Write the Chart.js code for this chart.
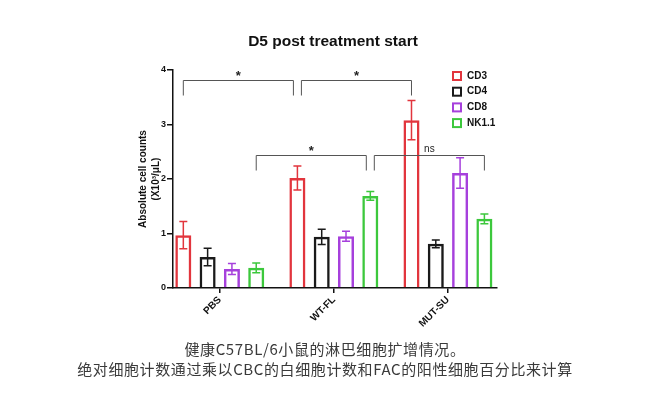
<!DOCTYPE html>
<html>
<head>
<meta charset="utf-8">
<script src="https://cdn.jsdelivr.net/npm/chart.js@4/dist/chart.umd.min.js"></script>
<style>
body { margin: 0; background: #fff; }
#wrap { position: relative; width: 650px; height: 394px; }
canvas { position: absolute; left: 0; top: 0; }
.title { position: absolute; left: 233px; width: 200px; top: 31px; text-align: center; font-family: Arial, "Liberation Sans", sans-serif; font-weight: bold; font-size: 15.5px; line-height: 20px; color: #111; }
.cap { position: absolute; left: 0; width: 650px; text-align: center; font-family: "Noto Sans CJK SC"; font-size: 15px; letter-spacing: 0.6px; color: #3a3a3a; line-height: 20px; }
</style>
</head>
<body>
<div id="wrap">
  <canvas id="chart" width="650" height="394"></canvas>
  <div class="title">D5 post treatment start</div>
  <div class="cap" style="top:339px">健康C57BL/6小鼠的淋巴细胞扩增情况。</div>
  <div class="cap" style="top:359px">绝对细胞计数通过乘以CBC的白细胞计数和FAC的阳性细胞百分比来计算</div>
</div>
<script>
const groups = ['PBS', 'WT-FL', 'MUT-SU'];
const seriesNames = ['CD3', 'CD4', 'CD8', 'NK1.1'];
const seriesColors = ['#e2353d', '#1a1a1a', '#a640dc', '#3cc83c'];

const cd3 = [0.97, 2.02, 3.08];
const cd3Err = [0.25, 0.22, 0.36];
const cd4 = [0.57, 0.94, 0.81];
const cd4Err = [0.16, 0.14, 0.07];
const cd8 = [0.35, 0.95, 2.11];
const cd8Err = [0.10, 0.09, 0.28];
const nk = [0.37, 1.69, 1.27];
const nkErr = [0.09, 0.08, 0.09];

const yTicks = [0, 1, 2, 3, 4];

// significance brackets: [group, series] -> [group, series], bracket height, label
const brackets = [
    { from: [0, 0], to: [1, 0], y: 3.82, label: '*' },
    { from: [1, 0], to: [2, 0], y: 3.82, label: '*' },
    { from: [0, 3], to: [1, 3], y: 2.44, label: '*' },
    { from: [1, 3], to: [2, 3], y: 2.44, label: 'ns' }
];

const values = [cd3, cd4, cd8, nk];
const errors = [cd3Err, cd4Err, cd8Err, nkErr];
const FONT = 'Arial, "Liberation Sans", sans-serif';

const errorBars = {
    id: 'errorBars',
    afterDatasetsDraw(chart) {
        const ctx = chart.ctx;
        const y = chart.scales.y;
        ctx.save();
        ctx.lineWidth = 1.5;
        chart.data.datasets.forEach((ds, i) => {
            const meta = chart.getDatasetMeta(i);
            ctx.strokeStyle = seriesColors[i];
            meta.data.forEach((bar, j) => {
                const v = values[i][j], e = errors[i][j];
                const top = y.getPixelForValue(v + e);
                const bot = y.getPixelForValue(v - e);
                ctx.beginPath();
                ctx.moveTo(bar.x, top); ctx.lineTo(bar.x, bot);
                ctx.moveTo(bar.x - 4, top); ctx.lineTo(bar.x + 4, top);
                ctx.moveTo(bar.x - 4, bot); ctx.lineTo(bar.x + 4, bot);
                ctx.stroke();
            });
        });
        ctx.restore();
    }
};

const sigMarks = {
    id: 'sigMarks',
    afterDatasetsDraw(chart) {
        const ctx = chart.ctx;
        const y = chart.scales.y;
        ctx.save();
        ctx.strokeStyle = '#555';
        ctx.lineWidth = 1;
        ctx.fillStyle = '#222';
        ctx.textAlign = 'center';
        brackets.forEach(b => {
            const barA = chart.getDatasetMeta(b.from[1]).data[b.from[0]];
            const barB = chart.getDatasetMeta(b.to[1]).data[b.to[0]];
            const x1 = barA.x + (b.from[0] === 1 ? 4 : 0);
            const x2 = barB.x - (b.to[0] === 1 ? 4 : 0);
            const yy = Math.round(y.getPixelForValue(b.y)) + 0.5;
            ctx.beginPath();
            ctx.moveTo(x1, yy + 15); ctx.lineTo(x1, yy);
            ctx.lineTo(x2, yy); ctx.lineTo(x2, yy + 15);
            ctx.stroke();
            if (b.label === '*') {
                ctx.font = 'bold 13px ' + FONT;
                ctx.fillText('*', (x1 + x2) / 2, yy - 1);
            } else {
                ctx.font = '10px ' + FONT;
                ctx.fillText(b.label, (x1 + x2) / 2, yy - 4);
            }
        });
        ctx.restore();
    }
};

const boxLegend = {
    id: 'boxLegend',
    afterDraw(chart) {
        const ctx = chart.ctx;
        const x0 = chart.chartArea.right - 45;
        ctx.save();
        ctx.font = 'bold 10px ' + FONT;
        ctx.textBaseline = 'middle';
        ctx.lineWidth = 2;
        chart.data.datasets.forEach((ds, i) => {
            const cy = 76 + i * 15.7;
            ctx.strokeStyle = seriesColors[i];
            ctx.strokeRect(x0 + 1, cy - 4, 8, 8);
            ctx.fillStyle = '#111';
            ctx.fillText(ds.label, x0 + 15, cy);
        });
        ctx.restore();
    }
};

new Chart(document.getElementById('chart'), {
    type: 'bar',
    data: {
        datasets: seriesNames.map((name, i) => ({
            label: name,
            data: values[i].map((v, j) => ({ x: j, y: v })),
            backgroundColor: 'rgba(255,255,255,0)',
            borderColor: seriesColors[i],
            borderWidth: 2.5,
            categoryPercentage: 0.852,
            barPercentage: 0.66
        }))
    },
    options: {
        responsive: false,
        animation: false,
        layout: { padding: { left: 137, right: 153, top: 70, bottom: 0 } },
        plugins: {
            legend: { display: false },
            tooltip: { enabled: false },
            title: { display: false }
        },
        scales: {
            x: {
                type: 'linear',
                offset: false,
                min: -0.41,
                max: 2.43,
                afterBuildTicks: s => { s.ticks = groups.map((g, i) => ({ value: i })); },
                afterFit: s => { s.height = 106; },
                ticks: {
                    callback: v => groups[v],
                    autoSkip: false,
                    maxRotation: 45,
                    minRotation: 45,
                    padding: 1,
                    color: '#111',
                    font: { family: FONT, size: 10, weight: 'bold' }
                },
                grid: { offset: false, drawOnChartArea: false, tickLength: 5, color: '#111', lineWidth: 1.5 },
                border: { color: '#111', width: 1.5 }
            },
            y: {
                min: 0,
                max: 4,
                afterBuildTicks: s => { s.ticks = yTicks.map(v => ({ value: v })); },
                afterFit: s => { s.width = 36; },
                ticks: {
                    padding: 1,
                    color: '#111',
                    font: { family: FONT, size: 9, weight: 'bold' }
                },
                grid: { drawOnChartArea: false, tickLength: 6, color: '#111', lineWidth: 1.5 },
                border: { color: '#111', width: 1.5 },
                title: {
                    display: true,
                    text: ['Absolute cell counts', '(X10³/μL)'],
                    color: '#111',
                    font: { family: FONT, size: 10, weight: 'bold', lineHeight: 1.3 },
                    padding: 0
                }
            }
        }
    },
    plugins: [errorBars, sigMarks, boxLegend]
});
</script>
</body>
</html>
